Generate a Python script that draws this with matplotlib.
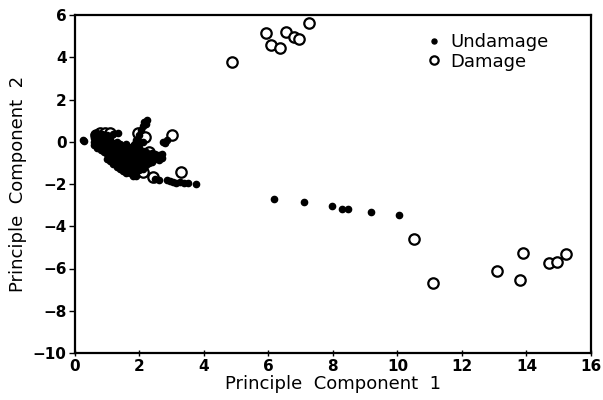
import numpy as np
import matplotlib.pyplot as plt

# undamaged samples (filled dots)
und_x = [0.25, 0.30, 0.60, 0.70, 0.85, 1.00, 1.20, 1.35,
         0.60, 0.60, 0.60, 0.70, 0.70, 0.70,
         0.80, 0.80, 0.80, 0.80, 0.90, 0.90, 0.90, 0.90,
         1.00, 1.00, 1.00, 1.00, 1.00,
         1.10, 1.10, 1.10, 1.10, 1.10, 1.10,
         1.20, 1.20, 1.20, 1.20, 1.20, 1.20,
         1.30, 1.30, 1.30, 1.30, 1.30, 1.30, 1.30,
         1.40, 1.40, 1.40, 1.40, 1.40, 1.40, 1.40,
         1.50, 1.50, 1.50, 1.50, 1.50, 1.50, 1.50,
         1.60, 1.60, 1.60, 1.60, 1.60, 1.60, 1.60, 1.60,
         1.70, 1.70, 1.70, 1.70, 1.70, 1.70, 1.70,
         1.80, 1.80, 1.80, 1.80, 1.80, 1.80, 1.80, 1.80,
         1.90, 1.90, 1.90, 1.90, 1.90, 1.90, 1.90,
         2.00, 2.00, 2.00, 2.00, 2.00, 2.00,
         2.10, 2.10, 2.10, 2.10, 2.10,
         2.20, 2.20, 2.20, 2.20, 2.30, 2.30, 2.30,
         2.40, 2.40, 2.40, 2.50, 2.50, 2.60, 2.60, 2.70, 2.70,
         1.90, 2.00, 2.05, 2.10, 2.15, 2.25, 2.20, 1.95, 2.10,
         2.75, 2.80, 2.85,
         2.50, 2.60, 2.85, 2.95, 3.05, 3.15, 3.25, 3.40, 3.50, 3.77,
         6.17, 7.10, 7.96, 8.27, 8.46, 9.17, 10.06]
und_y = [0.10, 0.05, 0.35, 0.40, 0.38, 0.30, 0.35, 0.40,
         0.20, 0.00, -0.15, 0.10, -0.10, -0.30,
         0.20, 0.00, -0.20, -0.40, 0.10, -0.10, -0.30, -0.50,
         0.00, -0.20, -0.40, -0.60, -0.80,
         0.10, -0.10, -0.30, -0.50, -0.70, -0.90,
         -0.05, -0.25, -0.45, -0.65, -0.85, -1.05,
         0.00, -0.20, -0.40, -0.60, -0.80, -1.00, -1.20,
         -0.10, -0.30, -0.50, -0.70, -0.90, -1.10, -1.30,
         -0.20, -0.40, -0.60, -0.80, -1.00, -1.20, -1.40,
         -0.10, -0.35, -0.55, -0.75, -0.95, -1.15, -1.35, -1.50,
         -0.30, -0.50, -0.70, -0.90, -1.10, -1.30, -1.50,
         -0.20, -0.45, -0.65, -0.85, -1.05, -1.25, -1.45, -1.60,
         -0.40, -0.60, -0.80, -1.00, -1.20, -1.40, -1.60,
         -0.30, -0.55, -0.75, -0.95, -1.15, -1.35,
         -0.45, -0.65, -0.85, -1.05, -1.30,
         -0.50, -0.70, -0.90, -1.10, -0.60, -0.80, -1.00,
         -0.55, -0.75, -0.95, -0.60, -0.80, -0.65, -0.85, -0.60, -0.75,
         0.10, 0.30, 0.55, 0.75, 0.95, 1.05, 0.85, -0.10, 0.00,
         0.00, -0.05, 0.10,
         -1.75, -1.80, -1.80, -1.85, -1.90, -1.95, -1.90, -1.95, -1.93, -1.99,
         -2.70, -2.84, -3.03, -3.17, -3.17, -3.31, -3.45]

# damaged samples (open circles)
dam_x = [0.65, 0.77, 0.95, 1.08, 1.95, 2.19, 3.02, 1.70, 2.41, 3.30,
         1.00, 1.30, 1.50, 1.20, 2.00, 1.75, 2.10, 1.60, 2.30, 1.90,
         4.88, 5.93, 6.08, 6.36, 6.54, 6.79, 6.94, 7.25,
         10.52, 11.11, 13.09, 13.89, 13.80, 14.69, 14.94, 15.22]
dam_y = [0.30, 0.43, 0.43, 0.43, 0.43, 0.24, 0.33, -0.38, -1.66, -1.42,
         -0.20, -0.30, -0.65, -0.80, -0.90, -1.20, -1.45, -1.30, -0.50, -0.20,
         3.79, 5.16, 4.59, 4.45, 5.21, 4.97, 4.87, 5.63,
         -4.59, -6.67, -6.10, -5.25, -6.53, -5.73, -5.68, -5.30]

fig = plt.figure(figsize=(6.03, 4.0), dpi=100, facecolor="white")
ax = fig.add_axes([0.124, 0.1175, 0.856, 0.845])

ax.plot(dam_x, dam_y, linestyle="none", marker="o", markersize=7.5,
        markerfacecolor="white", markeredgecolor="black", markeredgewidth=1.6,
        label="Damage", zorder=2)
ax.plot(und_x, und_y, linestyle="none", marker="o", markersize=4.5,
        color="black", label="Undamage", zorder=3)

ax.set_xlim(0, 16)
ax.set_ylim(-10, 6)
ax.set_xticks(np.arange(0, 17, 2))
ax.set_yticks(np.arange(-10, 7, 2))
ax.tick_params(axis="both", labelsize=11, length=4, width=1, pad=2)
ax.tick_params(axis="x", direction="inout")
for lab in ax.get_xticklabels() + ax.get_yticklabels():
    lab.set_fontweight("bold")
for sp in ax.spines.values():
    sp.set_linewidth(1.6)

ax.set_xlabel("Principle  Component  1", fontsize=13, labelpad=1)
ax.set_ylabel("Principle  Component  2", fontsize=13, labelpad=4)

h, l = ax.get_legend_handles_labels()
ax.legend(h[::-1], l[::-1], loc="upper right", bbox_to_anchor=(0.95, 0.995),
          frameon=False, fontsize=13, handletextpad=0.3, labelspacing=0.1,
          handlelength=1.2, markerscale=0.8)

fig.savefig("out.png", dpi=100)
